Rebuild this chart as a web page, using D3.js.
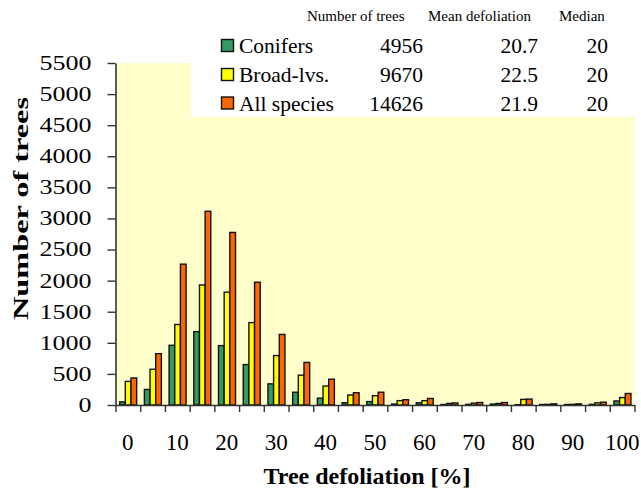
<!DOCTYPE html>
<html>
<head>
<meta charset="utf-8">
<script src="https://cdn.jsdelivr.net/npm/d3@7"></script>
</head>
<body style="margin:0;padding:0;background:#fff">
<svg id="chart" width="641" height="491"></svg>
<script>
const categories = ["0","5","10","15","20","25","30","35","40","45","50","55","60","65","70","75","80","85","90","95","100"];
const conifers   = [50, 250, 960, 1180, 955, 650, 340, 205, 110, 37, 55, 15, 35, 8, 10, 15, 5, 8, 8, 10, 65];
const broadLeaves= [380, 575, 1295, 1930, 1815, 1325, 795, 480, 305, 160, 150, 70, 70, 25, 30, 25, 90, 10, 10, 35, 120];
const allSpecies = [435, 825, 2265, 3115, 2775, 1975, 1135, 685, 415, 197, 205, 85, 105, 33, 40, 40, 95, 18, 18, 45, 185];
const seriesNames = ["Conifers","Broad-lvs.","All species"];
const seriesColors = ["#339966","#FFFF00","#FF6600"];
const numberOfTrees = ["4956","9670","14626"];
const meanDefoliation = ["20.7","22.5","21.9"];
const medianDefoliation = ["20","20","20"];
const yTicks = [0,500,1000,1500,2000,2500,3000,3500,4000,4500,5000,5500];
const xLabels = ["0","10","20","30","40","50","60","70","80","90","100"];

const FONT = "Liberation Serif";
const svg = d3.select("#chart");
const L = 115.5, R = 634.5, T = 63, B = 405;
const seriesData = [conifers, broadLeaves, allSpecies];

const y = d3.scaleLinear().domain([0,5500]).range([B,T]);
const x0 = d3.scaleBand().domain(categories).range([L,R]).padding(0);
const x1 = d3.scaleBand().domain(d3.range(3)).range([0,x0.bandwidth()]).paddingInner(0).paddingOuter(0.68);

svg.append("rect").attr("x",L).attr("y",T).attr("width",R-L).attr("height",B-T).attr("fill","#FFFFCC");
svg.append("rect").attr("x",191).attr("y",0).attr("width",641-191).attr("height",116.7).attr("fill","#fff");

const g = svg.append("g");
categories.forEach((c,i)=>{
  seriesData.forEach((s,j)=>{
    g.append("rect")
      .attr("x", x0(c)+x1(j)+0.3)
      .attr("y", y(s[i]))
      .attr("width", x1.bandwidth())
      .attr("height", B - y(s[i]))
      .attr("fill", seriesColors[j])
      .attr("stroke", "#111")
      .attr("stroke-width", 1.4);
  });
});

// y axis
const yAxis = svg.append("g").attr("transform",`translate(${L},0)`)
  .call(d3.axisLeft(y).tickValues(yTicks).tickSize(8).tickSizeOuter(0).tickPadding(16).tickFormat(d3.format("d")));
yAxis.attr("font-family", FONT);
yAxis.select(".domain").attr("stroke","#333").attr("stroke-width",1.6);
yAxis.selectAll(".tick line").attr("stroke","#333").attr("stroke-width",1.4);
yAxis.selectAll(".tick text").attr("font-size",20).attr("fill","#000")
  .attr("textLength", d => String(d).length*13).attr("lengthAdjust","spacingAndGlyphs");

// x axis
const xLin = d3.scaleLinear().domain([-2.5,102.5]).range([L,R]);
const xAxis = svg.append("g").attr("transform",`translate(0,${B})`)
  .call(d3.axisBottom(xLin).tickValues(d3.range(-2.5,103,5)).tickSize(7).tickSizeOuter(0).tickFormat(""));
xAxis.select(".domain").attr("stroke","#333").attr("stroke-width",1.6);
xAxis.selectAll(".tick line").attr("stroke","#333").attr("stroke-width",1.4);

svg.append("g").selectAll("text").data(xLabels).join("text")
  .attr("x", d => x0(d) + x0.bandwidth()/2)
  .attr("y", 450)
  .attr("text-anchor","middle")
  .attr("font-size",23)
  .text(d=>d);

svg.append("text").attr("x",367).attr("y",484).attr("text-anchor","middle")
  .attr("font-size",24).attr("font-weight","bold").text("Tree defoliation [%]");
svg.append("text").attr("transform","translate(28,208.5) rotate(-90)").attr("text-anchor","middle")
  .attr("font-size",22).attr("font-weight","bold")
  .attr("textLength",223).attr("lengthAdjust","spacingAndGlyphs").text("Number of trees");

const hdr = svg.append("g").attr("font-size",15);
hdr.append("text").attr("x",307).attr("y",21).text("Number of trees");
hdr.append("text").attr("x",428).attr("y",21).text("Mean defoliation");
hdr.append("text").attr("x",559).attr("y",21).text("Median");

const rowY = [53, 82, 110.5];
const leg = svg.append("g").attr("font-size",21.5);
seriesNames.forEach((n,j)=>{
  leg.append("rect").attr("x",221.5).attr("y",rowY[j]-13.5).attr("width",12).attr("height",12)
    .attr("fill",seriesColors[j]).attr("stroke","#111").attr("stroke-width",1.4);
  leg.append("text").attr("x",239).attr("y",rowY[j]).text(n);
  leg.append("text").attr("x",423).attr("y",rowY[j]).attr("text-anchor","end").text(numberOfTrees[j]);
  leg.append("text").attr("x",538).attr("y",rowY[j]).attr("text-anchor","end").text(meanDefoliation[j]);
  leg.append("text").attr("x",608).attr("y",rowY[j]).attr("text-anchor","end").text(medianDefoliation[j]);
});

svg.selectAll("text").attr("font-family", FONT).attr("fill","#000");
</script>
</body>
</html>
